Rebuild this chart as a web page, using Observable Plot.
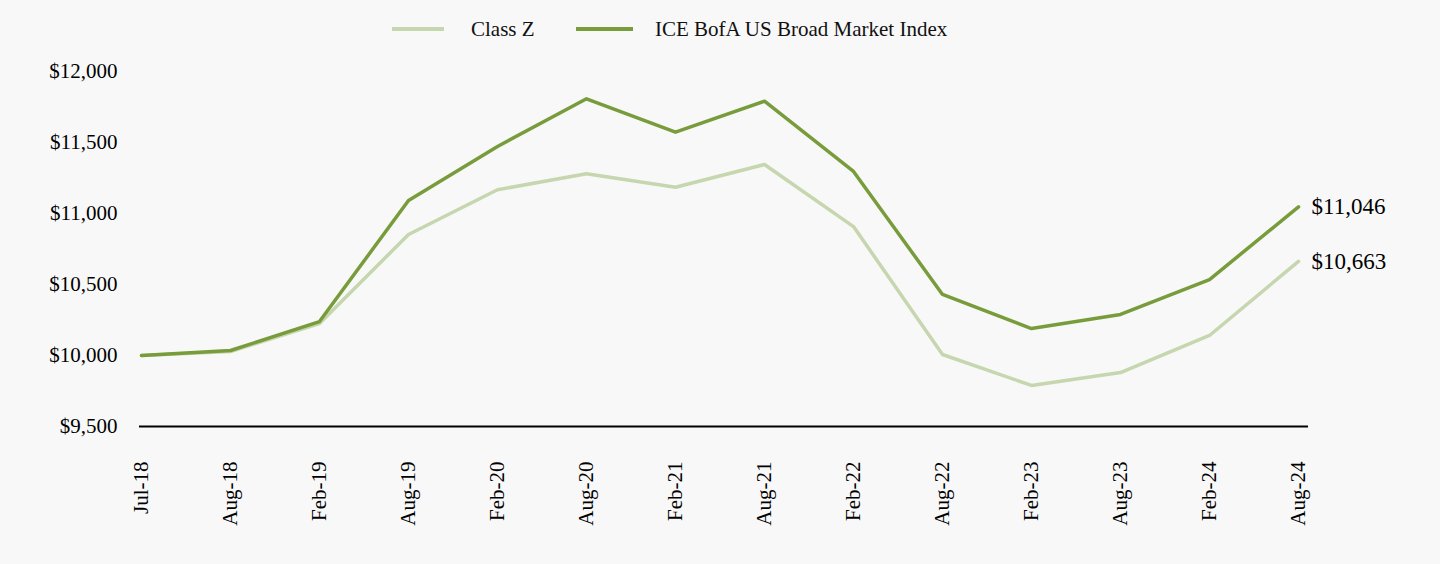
<!DOCTYPE html>
<html>
<head>
<meta charset="utf-8">
<script src="https://cdn.jsdelivr.net/npm/d3@7"></script>
<script src="https://cdn.jsdelivr.net/npm/@observablehq/plot@0.6"></script>
<style>
  html, body { margin: 0; padding: 0; background: #f8f8f8; }
  body { width: 1440px; height: 564px; overflow: hidden; font-family: "Liberation Serif", "Times New Roman", serif; }
  #legend { height: 50px; position: relative; }
  .item { position: absolute; top: 0; height: 58px; display: flex; align-items: center; font-size: 21px; color: #111; }
  .sw { display: inline-block; height: 4px; }
</style>
</head>
<body>
<div id="legend"></div>
<div id="chart"></div>
<script>
const months = ["Jul-18","Aug-18","Feb-19","Aug-19","Feb-20","Aug-20","Feb-21","Aug-21","Feb-22","Aug-22","Feb-23","Aug-23","Feb-24","Aug-24"];
const classZ = [10000, 10028, 10225, 10852, 11167, 11280, 11185, 11345, 10908, 10007, 9789, 9880, 10141, 10663];
const indexVals = [10000, 10035, 10239, 11092, 11472, 11808, 11573, 11791, 11296, 10430, 10190, 10289, 10535, 11046];
const seriesNames = ["Class Z", "ICE BofA US Broad Market Index"];
const seriesColors = ["#c6d6ae", "#789c3b"];
const yTicks = [9500, 10000, 10500, 11000, 11500, 12000];

// legend
const legend = document.getElementById("legend");
const legendPos = [{left: 392, sw: 52, gap: 27}, {left: 576, sw: 57, gap: 22}];
seriesNames.forEach((n, i) => {
  const it = document.createElement("div");
  it.className = "item";
  it.style.left = legendPos[i].left + "px";
  it.innerHTML = `<span class="sw" style="width:${legendPos[i].sw}px;margin-right:${legendPos[i].gap}px;background:${seriesColors[i]}"></span><span>${n}</span>`;
  legend.appendChild(it);
});

const rows = [];
months.forEach((m, i) => {
  rows.push({month: m, value: classZ[i], series: seriesNames[0]});
  rows.push({month: m, value: indexVals[i], series: seriesNames[1]});
});
const last = months.length - 1;
const endRows = [
  {month: months[last], value: indexVals[last], series: seriesNames[1]},
  {month: months[last], value: classZ[last], series: seriesNames[0]}
];
const fmt = d => "$" + d3.format(",")(d);

const chart = Plot.plot({
  width: 1440,
  height: 514,
  marginLeft: 139,
  marginRight: 132,
  marginTop: 21,
  marginBottom: 138,
  style: {background: "transparent", fontFamily: "Liberation Serif, Times New Roman, serif", fontSize: "21px", color: "#000"},
  x: {type: "point", domain: months, padding: 0, insetRight: 9, label: null},
  y: {domain: [9500, 12000], label: null},
  color: {domain: seriesNames, range: seriesColors},
  marks: [
    Plot.axisY({ticks: yTicks, tickFormat: fmt, tickSize: 0, tickPadding: 22, fontSize: 21}),
    Plot.axisX({tickSize: 0, tickPadding: 35, tickRotate: -90, fontSize: 21}),
    Plot.ruleY([9500], {stroke: "#000", strokeWidth: 2}),
    Plot.line(rows, {x: "month", y: "value", z: "series", stroke: "series", strokeWidth: 3.5}),
    Plot.text(endRows, {x: "month", y: "value", text: d => fmt(d.value), textAnchor: "start", dx: 13, fontSize: 23, fill: "#000"})
  ]
});
document.getElementById("chart").appendChild(chart);
</script>
</body>
</html>
